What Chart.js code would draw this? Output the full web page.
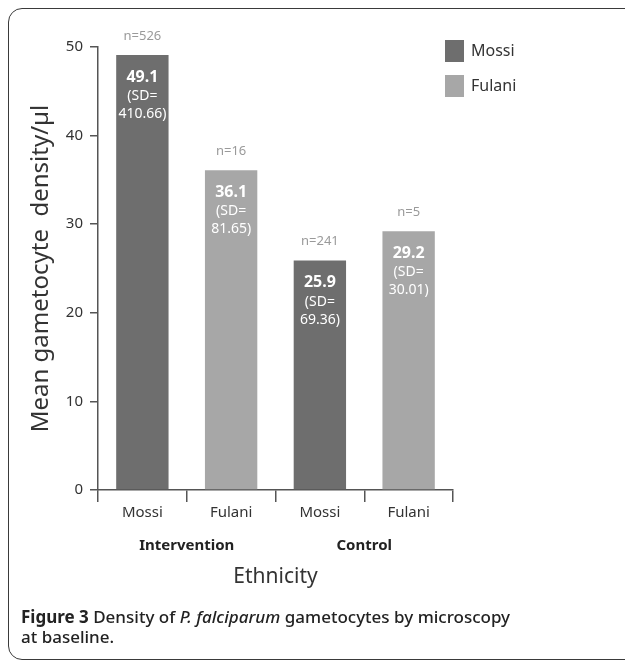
<!DOCTYPE html>
<html>
<head>
<meta charset="utf-8">
<script src="https://cdn.jsdelivr.net/npm/chart.js@4"></script>
<style>
  body { margin: 0; background: #fff; font-family: "Noto Sans", sans-serif; }
  #wrap { position: relative; width: 625px; height: 664px; overflow: hidden; }
  #frame { position: absolute; left: 8px; top: 8px; width: 700px; height: 650px;
           border: 1.5px solid #3a3a3a; border-radius: 14px; }
  #cv { position: absolute; left: 0; top: 0; }
  #caption { position: absolute; left: 21px; top: 607px; width: 505px; font-size: 17px;
             line-height: 20px; color: #222; font-weight: 500; }
</style>
</head>
<body>
<div id="wrap">
  <div id="frame"></div>
  <canvas id="cv" width="625" height="664"></canvas>
  <div id="caption"><b>Figure 3</b> Density of <i>P. falciparum</i> gametocytes by microscopy at baseline.</div>
</div>
<script>
// categories and groups
const categories = ['Mossi', 'Fulani', 'Mossi', 'Fulani'];
const groups = ['Intervention', 'Control'];

// series values (mean gametocyte density/µl)
const mossiValues = [49.1, null, 25.9, null];
const fulaniValues = [null, 36.1, null, 29.2];
const sdValues = ['410.66', '81.65', '69.36', '30.01'];
const nValues = ['n=526', 'n=16', 'n=241', 'n=5'];

const yTicks = [0, 10, 20, 30, 40, 50];

const darkGrey = '#6e6e6e';
const lightGrey = '#a7a7a7';
const font = '"Noto Sans", sans-serif';

// labels drawn on / above each bar
const barLabels = {
    id: 'barLabels',
    afterDatasetsDraw(chart) {
        const ctx = chart.ctx;
        ctx.save();
        ctx.textAlign = 'center';
        ctx.textBaseline = 'middle';
        chart.data.datasets.forEach((ds, di) => {
            const meta = chart.getDatasetMeta(di);
            meta.data.forEach((bar, i) => {
                if (ds.data[i] == null) return;
                const x = bar.x, top = bar.y;
                ctx.fillStyle = '#9a9a9a';
                ctx.font = '13px ' + font;
                ctx.fillText(nValues[i], x, top - 19);
                ctx.fillStyle = '#ffffff';
                ctx.font = 'bold 16px ' + font;
                ctx.fillText(ds.data[i].toFixed(1), x, top + 22);
                ctx.font = '14px ' + font;
                ctx.fillText('(SD=', x, top + 41);
                ctx.fillText(sdValues[i] + ')', x, top + 59);
            });
        });
        ctx.restore();
    }
};

// group names under the category labels + legend
const extras = {
    id: 'extras',
    afterDraw(chart) {
        const ctx = chart.ctx;
        const xs = chart.scales.x;
        ctx.save();
        ctx.fillStyle = '#222';
        ctx.font = 'bold 15px ' + font;
        ctx.textAlign = 'center';
        ctx.textBaseline = 'middle';
        groups.forEach((g, gi) => {
            const a = xs.getPixelForValue(gi * 2);
            const b = xs.getPixelForValue(gi * 2 + 1);
            ctx.fillText(g, (a + b) / 2, 546);
        });
        // legend
        ctx.textAlign = 'left';
        ctx.font = '16px ' + font;
        chart.data.datasets.forEach((ds, di) => {
            const y = 40 + di * 35;
            ctx.fillStyle = ds.backgroundColor;
            ctx.fillRect(445, y, 19, 22);
            ctx.fillStyle = '#333';
            ctx.fillText(ds.label, 471, y + 11);
        });
        ctx.restore();
    }
};

new Chart(document.getElementById('cv'), {
    type: 'bar',
    data: {
        labels: categories,
        datasets: [
            { label: 'Mossi', data: mossiValues, backgroundColor: darkGrey },
            { label: 'Fulani', data: fulaniValues, backgroundColor: lightGrey }
        ]
    },
    options: {
        responsive: false,
        animation: false,
        skipNull: true,
        categoryPercentage: 1,
        barPercentage: 0.59,
        layout: { padding: { top: 47, right: 172, bottom: 74, left: 0 } },
        plugins: { legend: { display: false }, tooltip: { enabled: false } },
        scales: {
            x: {
                grid: { drawOnChartArea: false, tickLength: 12, tickColor: '#555', lineWidth: 1.5 },
                border: { color: '#555', width: 1.5 },
                ticks: { color: '#333', font: { family: font, size: 15 }, padding: 2 },
                title: { display: true, text: 'Ethnicity', color: '#333',
                         font: { family: font, size: 21 }, padding: { top: 0, bottom: 0 } },
                afterFit(scale) { scale.height = 100; }
            },
            y: {
                min: 0,
                max: 50,
                afterBuildTicks(scale) { scale.ticks = yTicks.map(v => ({ value: v })); },
                grid: { drawOnChartArea: false, tickLength: 8, tickColor: '#555', lineWidth: 1.5 },
                border: { color: '#555', width: 1.5 },
                ticks: { color: '#333', font: { family: font, size: 15 }, padding: 7 },
                title: { display: true, text: 'Mean gametocyte  density/µl', color: '#333',
                         font: { family: font, size: 24 }, padding: { top: 27, bottom: 0 } },
                afterFit(scale) { scale.width = 98; }
            }
        }
    },
    plugins: [barLabels, extras]
});
</script>
</body>
</html>
